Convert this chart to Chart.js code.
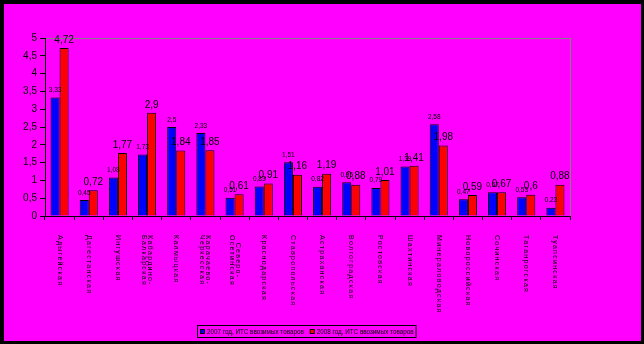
<!DOCTYPE html>
<html>
<head>
<meta charset="utf-8">
<script src="https://cdn.jsdelivr.net/npm/chart.js@4/dist/chart.umd.min.js"></script>
<style>
  html, body { margin: 0; padding: 0; background: #000; }
  #wrap { width: 644px; height: 344px; }
</style>
</head>
<body>
<div id="wrap"><canvas id="chart" width="644" height="344"></canvas></div>
<script>
// Customs offices (multi-line names are arrays)
const customs = [
  'Адыгейская', 'Дагестанская', 'Ингушская', ['Кабардино-', 'Балкарская'],
  'Калмыцкая', ['Карачаево-', 'Черкесская'], ['Северо-', 'Осетинская'],
  'Краснодарская', 'Ставропольская', 'Астраханская', 'Волгоградская',
  'Ростовская', 'Шахтинская', 'Минераловодская', 'Новороссийская',
  'Сочинская', 'Таганрогская', 'Туапсинская'
];
const its2007 = [3.33, 0.45, 1.08, 1.73, 2.5, 2.33, 0.51, 0.83, 1.51, 0.82, 0.95, 0.79, 1.39, 2.58, 0.47, 0.67, 0.53, 0.23];
const its2008 = [4.72, 0.72, 1.77, 2.9, 1.84, 1.85, 0.61, 0.91, 1.16, 1.19, 0.88, 1.01, 1.41, 1.98, 0.59, 0.67, 0.6, 0.88];
const seriesNames = ['2007 год, ИТС ввозимых товаров', '2008 год, ИТС ввозимых товаров'];
const seriesColors = ['#0000ff', '#ff0000'];

const comma = v => String(v).replace('.', ',');

// Frame + magenta background, gray plot border
const frame = {
  id: 'frame',
  beforeDraw(chart) {
    const { ctx, chartArea: a } = chart;
    ctx.save();
    ctx.fillStyle = '#000';
    ctx.fillRect(0, 0, 644, 344);
    ctx.fillStyle = '#ff00ff';
    ctx.fillRect(4, 4, 637, 337);
    ctx.strokeStyle = '#808080';
    ctx.lineWidth = 1;
    ctx.strokeRect(a.left + 0.5, a.top + 0.5, a.right - a.left, a.bottom - a.top);
    ctx.restore();
  }
};

// Vertical category names, read top to bottom
const catLabels = {
  id: 'catLabels',
  afterDraw(chart) {
    const { ctx } = chart;
    const x = chart.scales.x;
    ctx.save();
    ctx.font = '7px "Liberation Sans", Arial, sans-serif';
    ctx.letterSpacing = '1.3px';
    ctx.fillStyle = '#000';
    ctx.textBaseline = 'middle';
    customs.forEach((name, i) => {
      const lines = Array.isArray(name) ? name : [name];
      const w = Math.max(...lines.map(l => ctx.measureText(l).width));
      ctx.save();
      ctx.translate(x.getPixelForValue(i), 235);
      ctx.rotate(Math.PI / 2);
      lines.forEach((l, j) => {
        // first line ends up on the right after rotation
        const off = (j - (lines.length - 1) / 2) * 6;
        if (lines.length > 1) {
          ctx.textAlign = 'center';
          ctx.fillText(l, w / 2, off);
        } else {
          ctx.textAlign = 'left';
          ctx.fillText(l, 0, off);
        }
      });
      ctx.restore();
    });
    ctx.restore();
  }
};

// Value labels above each bar
const valueLabels = {
  id: 'valueLabels',
  afterDatasetsDraw(chart) {
    const { ctx } = chart;
    ctx.save();
    ctx.fillStyle = '#000';
    ctx.textAlign = 'center';
    ctx.textBaseline = 'bottom';
    chart.data.datasets.forEach((ds, di) => {
      ctx.font = di === 0 ? '6.5px "Liberation Sans", Arial, sans-serif'
                          : '10px "Liberation Sans", Arial, sans-serif';
      chart.getDatasetMeta(di).data.forEach((bar, i) => {
        ctx.fillText(comma(ds.data[i]), bar.x, bar.y - (di === 0 ? 4 : 3));
      });
    });
    ctx.restore();
  }
};

// Boxed legend under the plot
const boxLegend = {
  id: 'boxLegend',
  afterDraw(chart) {
    const { ctx, chartArea: a } = chart;
    ctx.save();
    ctx.font = '6.3px "Liberation Sans", Arial, sans-serif';
    ctx.textBaseline = 'middle';
    ctx.textAlign = 'left';
    const gap = 5, sw = 5;
    const widths = seriesNames.map(n => ctx.measureText(n).width);
    const total = widths.reduce((s, w) => s + sw + 3 + w, 0) + gap + 4;
    const left = Math.round((a.left + a.right) / 2 - total / 2) - 1;
    const top = 325, h = 12;
    ctx.strokeStyle = '#000';
    ctx.lineWidth = 1;
    ctx.strokeRect(left + 0.5, top + 0.5, total, h);
    let cx = left + 3;
    seriesNames.forEach((n, i) => {
      ctx.fillStyle = seriesColors[i];
      ctx.fillRect(cx, top + 4, sw, sw);
      ctx.strokeRect(cx + 0.5, top + 4.5, sw - 1, sw - 1);
      ctx.fillStyle = '#000';
      ctx.fillText(n, cx + sw + 2, top + h / 2 + 1);
      cx += sw + 3 + widths[i] + gap;
    });
    ctx.restore();
  }
};

new Chart(document.getElementById('chart'), {
  type: 'bar',
  data: {
    labels: customs,
    datasets: [0, 1].map(i => ({
      label: seriesNames[i],
      data: i === 0 ? its2007 : its2008,
      backgroundColor: seriesColors[i],
      borderColor: '#000',
      borderWidth: 1,
      categoryPercentage: 0.62,
      barPercentage: 1
    }))
  },
  options: {
    responsive: false,
    animation: false,
    layout: { padding: { top: 38, right: 74, left: 0, bottom: 0 } },
    plugins: { legend: { display: false }, tooltip: { enabled: false } },
    scales: {
      x: {
        afterFit: s => { s.height = 128; },
        ticks: { display: false },
        grid: { drawOnChartArea: false, drawTicks: true, tickLength: 4, color: '#000' },
        border: { color: '#000' }
      },
      y: {
        min: 0, max: 5,
        afterFit: s => { s.width = 45; },
        ticks: {
          stepSize: 0.5,
          color: '#000',
          padding: 3,
          font: { family: '"Liberation Sans", Arial, sans-serif', size: 10 },
          callback: v => comma(v)
        },
        grid: { drawOnChartArea: false, drawTicks: true, tickLength: 5, color: '#000' },
        border: { color: '#000' }
      }
    }
  },
  plugins: [frame, catLabels, valueLabels, boxLegend]
});
</script>
</body>
</html>
